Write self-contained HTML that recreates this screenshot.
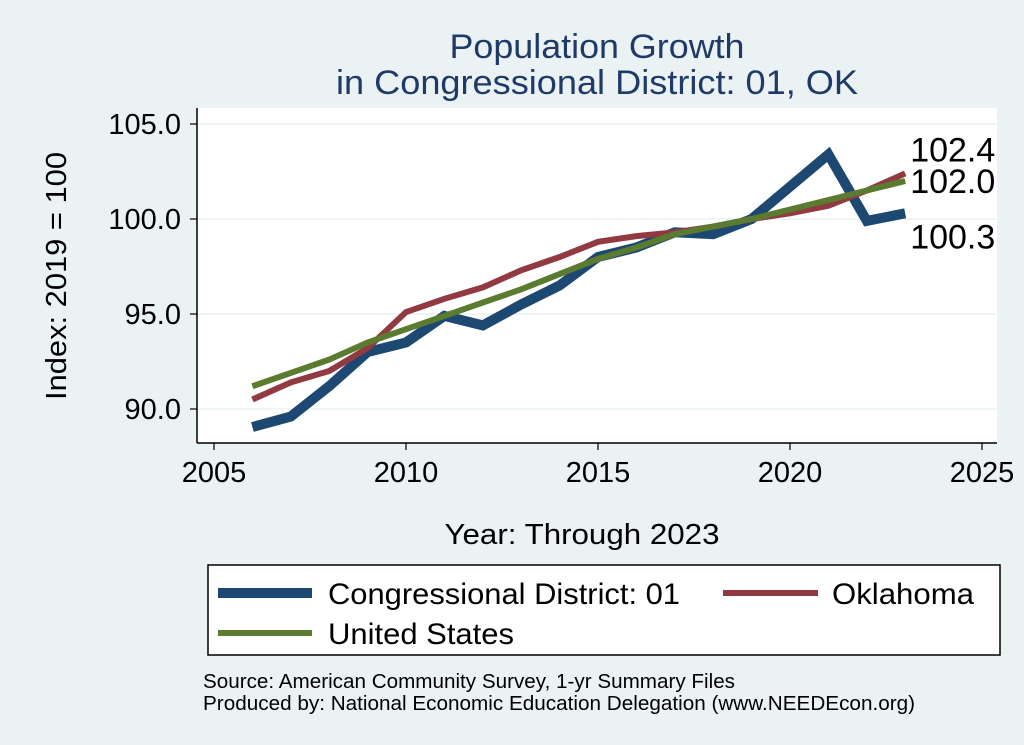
<!DOCTYPE html>
<html><head><meta charset="utf-8"><style>
body{margin:0;background:#eaf2f3;font-family:"Liberation Sans",sans-serif;}
svg{display:block}
</style></head><body>
<svg width="1024" height="745" viewBox="0 0 1024 745">
<rect x="0" y="0" width="1024" height="745" fill="#eaf2f3"/>
<text x="597" y="58" font-size="34" fill="#1f3a68" text-anchor="middle" textLength="295" lengthAdjust="spacingAndGlyphs">Population Growth</text>
<text x="597" y="94" font-size="34" fill="#1f3a68" text-anchor="middle" textLength="522" lengthAdjust="spacingAndGlyphs">in Congressional District: 01, OK</text>
<rect x="197" y="108" width="800" height="335" fill="#fff"/>
<g id="grid"></g>
<g id="axes"></g>
<g id="series"></g>
<text transform="translate(56,276) rotate(-90)" font-size="29" text-anchor="middle" textLength="248" lengthAdjust="spacingAndGlyphs" dy="10">Index: 2019 = 100</text>
<text x="582" y="544" font-size="29" text-anchor="middle" textLength="275" lengthAdjust="spacingAndGlyphs">Year: Through 2023</text>
<g>
<rect x="208" y="565" width="792" height="90" fill="#fff" stroke="#000" stroke-width="1.5"/>
<line x1="218" y1="593" x2="312" y2="593" stroke="#1c4872" stroke-width="10"/>
<text x="328" y="604" font-size="30" textLength="352" lengthAdjust="spacingAndGlyphs">Congressional District: 01</text>
<line x1="723" y1="593" x2="818" y2="593" stroke="#923a42" stroke-width="6"/>
<text x="832" y="604" font-size="30" textLength="142" lengthAdjust="spacingAndGlyphs">Oklahoma</text>
<line x1="218" y1="633" x2="312" y2="633" stroke="#5a7b30" stroke-width="6"/>
<text x="328" y="644" font-size="30" textLength="186" lengthAdjust="spacingAndGlyphs">United States</text>
</g>
<text x="203" y="688" font-size="20" textLength="532" lengthAdjust="spacingAndGlyphs">Source: American Community Survey, 1-yr Summary Files</text>
<text x="203" y="710" font-size="20" textLength="712" lengthAdjust="spacingAndGlyphs">Produced by: National Economic Education Delegation (www.NEEDEcon.org)</text>
</svg>
<script>
const years=[2006,2007,2008,2009,2010,2011,2012,2013,2014,2015,2016,2017,2018,2019,2020,2021,2022,2023];
const cdValues=[89.05,89.6,91.2,93.0,93.5,94.9,94.4,95.5,96.5,98.0,98.5,99.3,99.2,100.0,101.7,103.4,99.9,100.3];
const okValues=[90.5,91.4,92.0,93.2,95.1,95.8,96.4,97.3,98.0,98.8,99.1,99.3,99.6,100.0,100.3,100.7,101.5,102.4];
const usValues=[91.2,91.9,92.6,93.5,94.2,94.9,95.6,96.3,97.1,97.9,98.5,99.2,99.6,100.0,100.5,101.0,101.5,102.0];
const xTicks=[2005,2010,2015,2020,2025];
const yTicks=[90,95,100,105];
const yTickLabels=["90.0","95.0","100.0","105.0"];
const NS="http://www.w3.org/2000/svg";
const xS=v=>214+(v-2005)*38.4;
const yS=v=>219-(v-100)*19;
function mk(tag,attrs,parent){const e=document.createElementNS(NS,tag);for(const k in attrs)e.setAttribute(k,attrs[k]);parent.appendChild(e);return e;}
const grid=document.getElementById('grid'),axes=document.getElementById('axes'),ser=document.getElementById('series');
yTicks.forEach((t,i)=>{
 const g=mk('line',{x1:197,x2:997,y1:yS(t),y2:yS(t),stroke:'#eaf2f3','stroke-width':1.5},grid);
 
 
 const tk=mk('line',{x1:190,x2:197,y1:yS(t),y2:yS(t),stroke:'#000','stroke-width':1.2},axes);
 
 
 const lb=mk('text',{x:181,y:yS(t)+10,'font-size':29,'text-anchor':'end'},axes);
 lb.textContent=yTickLabels[i];
 
 
});
xTicks.forEach(t=>{
 const tk=mk('line',{x1:xS(t),x2:xS(t),y1:443,y2:450,stroke:'#000','stroke-width':1.2},axes);
 
 
 const lb=mk('text',{x:xS(t),y:482,'font-size':29,'text-anchor':'middle'},axes);
 lb.textContent=t;
 
 
});
const ya=mk('line',{x1:197,x2:197,y1:108,y2:443,stroke:'#000','stroke-width':1.5},axes);


const xa=mk('line',{x1:197,x2:997,y1:443,y2:443,stroke:'#000','stroke-width':1.5},axes);


function line(vals,color,w,name){
 const p=mk('polyline',{points:vals.map((v,i)=>xS(years[i])+','+yS(v)).join(' '),fill:'none',stroke:color,'stroke-width':w,'stroke-linejoin':'miter'},ser);
 
 
}
line(cdValues,'#1c4872',10,'line-cd');
line(okValues,'#923a42',6,'line-ok');
line(usValues,'#5a7b30',6,'line-us');
const n=years.length-1,lx=xS(years[n])+5;
[[okValues[n],-12,'label-ok'],[usValues[n],12,'label-us'],[cdValues[n],35,'label-cd']].forEach(([v,dy,nm])=>{
 const t=mk('text',{x:lx,y:yS(v)+dy,'font-size':34},ser);
 t.textContent=v.toFixed(1);
 
 
});
</script>
</body></html>
